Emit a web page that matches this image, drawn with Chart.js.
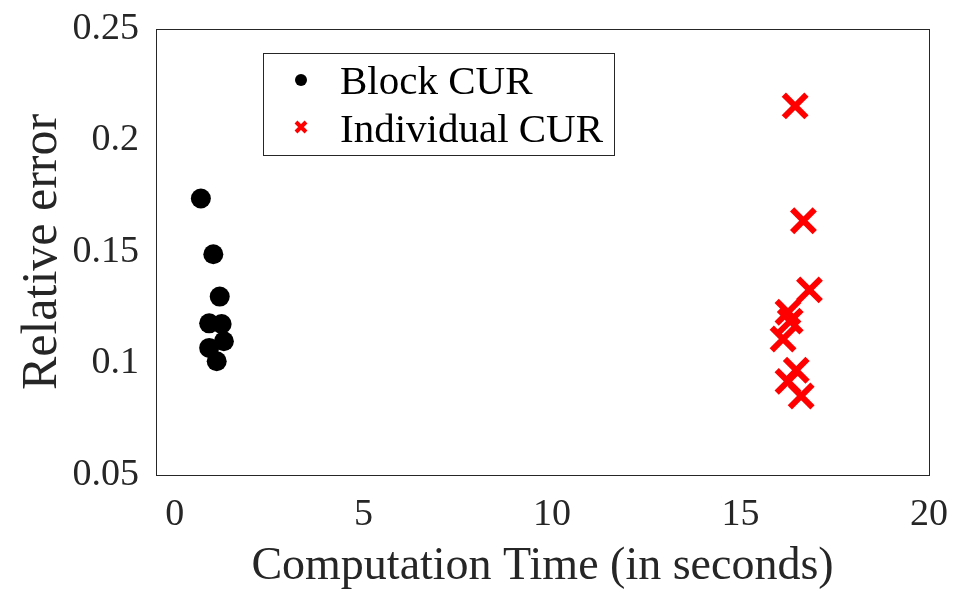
<!DOCTYPE html>
<html>
<head>
<meta charset="utf-8">
<script src="https://cdn.jsdelivr.net/npm/chart.js@4.4.1/dist/chart.umd.min.js"></script>
<style>
  body { margin: 0; background: #fff; }
  canvas { display: block; }
</style>
</head>
<body>
<canvas id="chartCUR" width="965" height="608"></canvas>
<script>
// datos
const xTicks = [0, 5, 10, 15, 20];
const yTicks = [0.05, 0.1, 0.15, 0.2, 0.25];
const yTickLabels = ["0.05", "0.1", "0.15", "0.2", "0.25"];

const blockTime = [0.69, 1.02, 1.19, 0.91, 1.24, 1.30, 0.91, 1.11];
const blockErr  = [0.174, 0.149, 0.130, 0.118, 0.1177, 0.110, 0.107, 0.101];

const indivTime = [16.45, 16.67, 16.83, 16.26, 16.32, 16.13, 16.48, 16.26, 16.61];
const indivErr  = [0.2155, 0.164, 0.133, 0.123, 0.119, 0.111, 0.097, 0.092, 0.0854];

const serif = "'Liberation Serif', 'Times New Roman', serif";
const ink = "#262626";

// caja alrededor del area + leyenda dentro
const boxLegend = {
    id: "boxLegend",
    afterDraw(chart) {
        const ctx = chart.ctx;
        const a = chart.chartArea;
        ctx.save();
        ctx.strokeStyle = ink;
        ctx.lineWidth = 1;
        ctx.strokeRect(a.left + 0.5, a.top + 0.5, a.right - a.left, a.bottom - a.top);

        // leyenda
        ctx.fillStyle = "#fff";
        ctx.fillRect(263, 53, 351, 102);
        ctx.strokeStyle = ink;
        ctx.strokeRect(263.5, 53.5, 351, 102);

        ctx.fillStyle = "#000";
        ctx.beginPath();
        ctx.arc(301, 80, 6, 0, Math.PI * 2);
        ctx.fill();

        ctx.strokeStyle = "#ff0000";
        ctx.lineWidth = 4;
        ctx.beginPath();
        ctx.moveTo(296, 122); ctx.lineTo(306, 132);
        ctx.moveTo(306, 122); ctx.lineTo(296, 132);
        ctx.stroke();

        ctx.fillStyle = "#000";
        ctx.font = "41px " + serif;
        ctx.textBaseline = "alphabetic";
        ctx.fillText(chart.data.datasets[0].label, 340, 94);
        ctx.fillText(chart.data.datasets[1].label, 340, 142);
        ctx.restore();
    }
};

new Chart(document.getElementById("chartCUR"), {
    type: "scatter",
    data: {
        datasets: [{
            label: "Block CUR",
            data: blockTime.map((t, i) => ({ x: t, y: blockErr[i] })),
            pointStyle: "circle",
            pointRadius: 10,
            pointBackgroundColor: "#000",
            pointBorderWidth: 0
        }, {
            label: "Individual CUR",
            data: indivTime.map((t, i) => ({ x: t, y: indivErr[i] })),
            pointStyle: "crossRot",
            pointRadius: 16,
            pointBorderColor: "#ff0000",
            pointBorderWidth: 6
        }]
    },
    options: {
        responsive: false,
        animation: false,
        layout: { padding: { top: 29, right: 36, left: 0, bottom: 0 } },
        plugins: {
            legend: { display: false },
            tooltip: { enabled: false }
        },
        scales: {
            x: {
                type: "linear",
                min: -0.5,
                max: 20,
                afterBuildTicks: s => { s.ticks = xTicks.map(v => ({ value: v })); },
                afterFit: s => { s.height = 133; s.paddingLeft = 0; s.paddingRight = 0; },
                grid: { display: false, drawTicks: false },
                border: { display: true, color: ink, width: 1 },
                ticks: {
                    autoSkip: false, maxRotation: 0, padding: 17,
                    color: ink, font: { family: serif, size: 38 },
                    callback: v => String(v)
                },
                title: {
                    display: true, text: "Computation Time (in seconds)",
                    color: ink, font: { family: serif, size: 46 },
                    padding: { top: 0, bottom: 13 }
                }
            },
            y: {
                type: "linear",
                min: 0.05,
                max: 0.25,
                afterBuildTicks: s => { s.ticks = yTicks.map(v => ({ value: v })); },
                afterFit: s => { s.width = 156; s.paddingTop = 0; s.paddingBottom = 0; },
                grid: { display: false, drawTicks: false },
                border: { display: true, color: ink, width: 1 },
                ticks: {
                    autoSkip: false, padding: 17,
                    color: ink, font: { family: serif, size: 38 },
                    callback: (v, i) => yTickLabels[i]
                },
                title: {
                    display: true, text: "Relative error",
                    color: ink, font: { family: serif, size: 50 },
                    padding: { top: 13, bottom: 0 }
                }
            }
        }
    },
    plugins: [boxLegend]
});
</script>
</body>
</html>
